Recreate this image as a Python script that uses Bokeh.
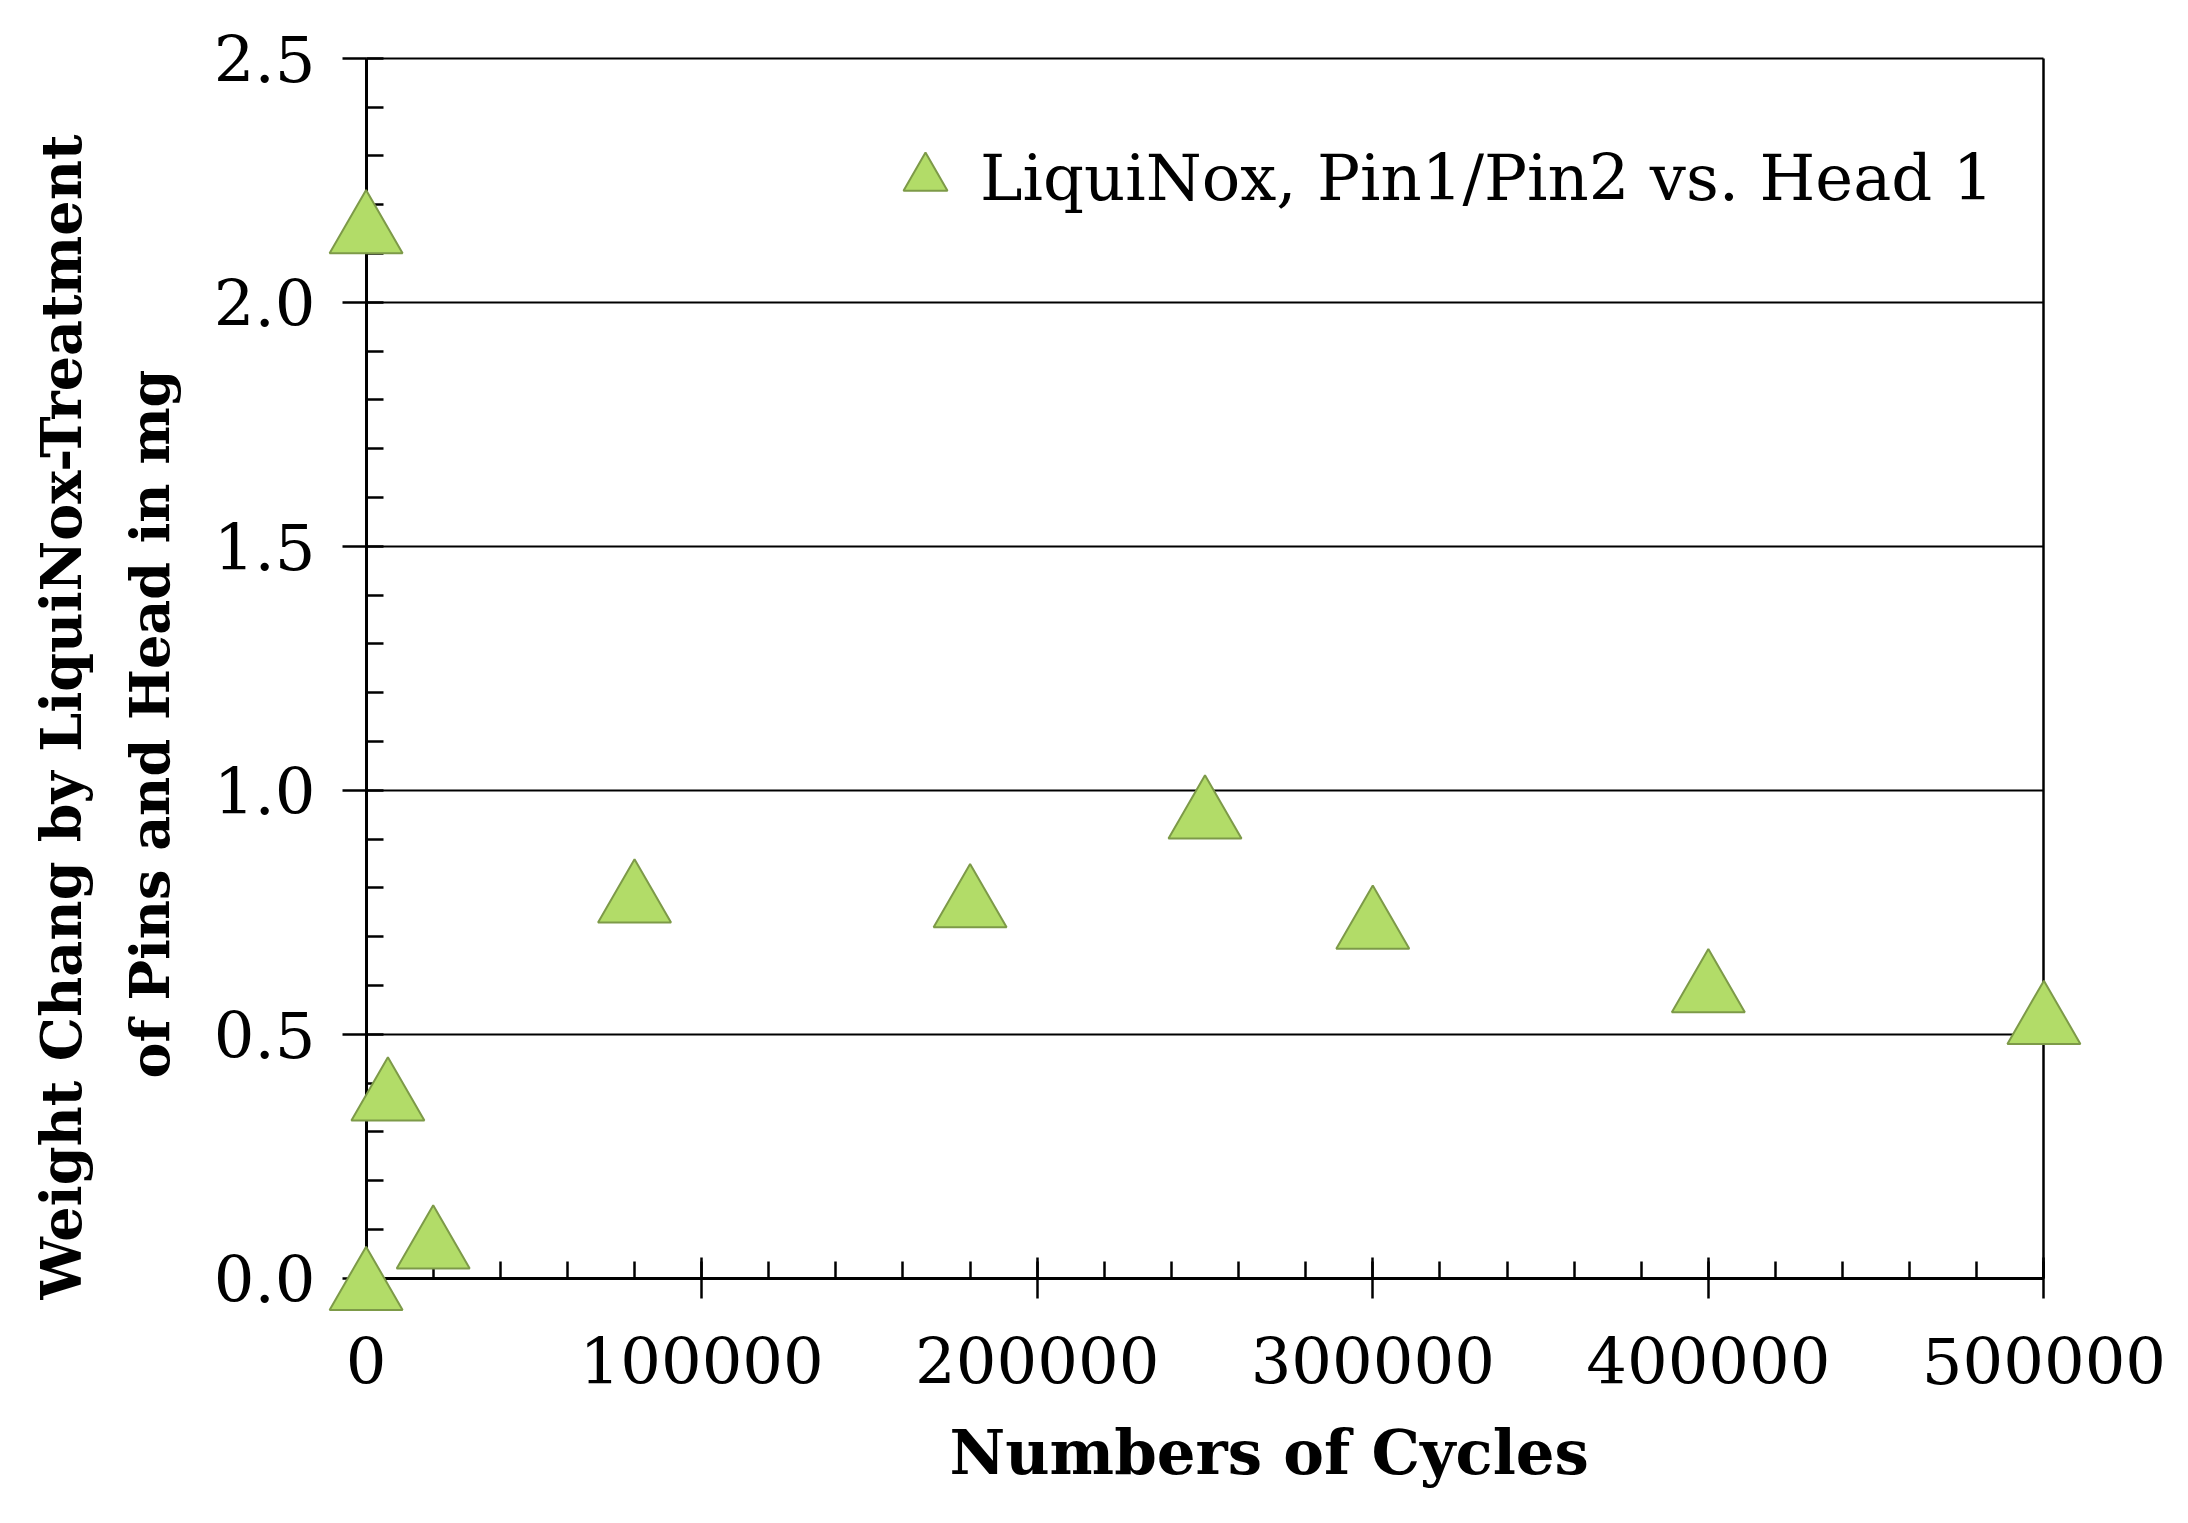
from bokeh.plotting import figure
from bokeh.models import (Range1d, SingleIntervalTicker, FixedTicker, Title, Legend,
                          LegendItem, PrintfTickFormatter, LinearAxis, ColumnDataSource)
from bokeh.transform import dodge
from bokeh.embed import file_html
from bokeh.resources import INLINE

# ---- data ----
cycles = [0, 0, 6500, 20000, 80000, 180000, 250000, 300000, 400000, 500000]
weight_change = [2.165, 0.0, 0.388, 0.085, 0.794, 0.784, 0.966, 0.740, 0.610, 0.545]
series_label = "LiquiNox, Pin1/Pin2 vs. Head 1"
x_title = "Numbers of Cycles"
y_title_line1 = "Weight  Chang by LiquiNox-Treatment"
y_title_line2 = "of Pins and Head in mg"
x_start, x_end, x_step = 0, 500000, 100000
y_start, y_end, y_step = 0.0, 2.5, 0.5

SERIF = "DejaVu Serif"

# small padding so markers sitting on the axes are not clipped by the frame
x_pad = 11500
y_pad_lo, y_pad_hi = 0.07, 0.02

p = figure(width=2170, height=1515, output_backend="svg", toolbar_location=None,
           x_range=Range1d(x_start - x_pad, x_end + x_pad),
           y_range=Range1d(y_start - y_pad_lo, y_end + y_pad_hi),
           min_border_left=327, min_border_right=88, min_border_top=48,
           min_border_bottom=199)
p.background_fill_color = "white"
p.border_fill_color = "white"
p.outline_line_color = None

x_ticker = SingleIntervalTicker(interval=x_step, num_minor_ticks=5)
y_ticker = SingleIntervalTicker(interval=y_step, num_minor_ticks=5)

# label-only axes at the frame edges
for ax in (p.xaxis, p.yaxis):
    ax.axis_line_color = None
    ax.major_tick_line_color = None
    ax.minor_tick_line_color = None
    ax.major_tick_in = 0
    ax.major_tick_out = 0
    ax.minor_tick_in = 0
    ax.minor_tick_out = 0
    ax.major_label_text_font = SERIF
    ax.major_label_text_font_size = "64px"
    ax.major_label_text_color = "black"
p.xaxis.ticker = x_ticker
p.yaxis.ticker = y_ticker
p.xaxis.formatter = PrintfTickFormatter(format="%d")
p.yaxis.formatter = PrintfTickFormatter(format="%.1f")
p.xaxis.major_label_standoff = 24
p.yaxis.major_label_standoff = 12


def line_axis(loc, bounds, ticker, tin, tout):
    return LinearAxis(fixed_location=loc, bounds=bounds, ticker=ticker,
                      axis_line_color="black", axis_line_width=3,
                      major_tick_line_color="black", major_tick_line_width=2.5,
                      minor_tick_line_color="black", minor_tick_line_width=2.5,
                      major_tick_in=tin, major_tick_out=tout,
                      minor_tick_in=17, minor_tick_out=0,
                      major_label_text_color=None,
                      major_label_text_font_size="1px")


# axis lines + ticks pinned at the data origin
p.add_layout(line_axis(y_start, (x_start, x_end), x_ticker, 21, 20), "below")
p.add_layout(line_axis(x_start, (y_start, y_end), y_ticker, 0, 24), "left")
# right border line of the plot area
right_axis = LinearAxis(fixed_location=x_end, bounds=(y_start, y_end),
                        ticker=FixedTicker(ticks=[]), axis_line_color="black",
                        axis_line_width=2.5, major_tick_in=0, major_tick_out=0,
                        minor_tick_in=0, minor_tick_out=0)
p.add_layout(right_axis, "right")

p.xgrid.visible = False
p.ygrid.grid_line_color = "black"
p.ygrid.grid_line_width = 2
p.ygrid.grid_line_alpha = 1.0
p.ygrid.cross_bounds = (x_start, x_end)

# data: Bokeh anchors a triangle at its centroid, Excel at the middle of its box;
# dodge shifts the anchor so the box middle sits on the value
source = ColumnDataSource(data=dict(x=cycles, y=weight_change))
r = p.scatter(x="x", y=dodge("y", -0.0215, range=p.y_range), source=source,
              marker="triangle", size=73,
              fill_color="#b2dc68", line_color="#7d9a48", line_width=2,
              level="overlay")

# legend
legend = Legend(items=[LegendItem(label=series_label, renderers=[r])],
                location=(543, 1077), glyph_width=110, glyph_height=115,
                label_standoff=0, padding=0, margin=0, spacing=0,
                border_line_color=None, background_fill_alpha=0,
                label_text_font=SERIF, label_text_font_size="64px",
                label_text_color="black")
p.add_layout(legend)

# axis titles
xt = Title(text=x_title, align="left", offset=622, text_font=SERIF,
           text_font_size="61px", text_font_style="bold", standoff=56,
           text_color="black")
p.add_layout(xt, "below")

yt2 = Title(text=y_title_line2, align="left", offset=234, text_font=SERIF,
            text_font_size="54px", text_font_style="bold", standoff=57,
            text_color="black")
p.add_layout(yt2, "left")
yt1 = Title(text=y_title_line1, align="left", offset=13, text_font=SERIF,
            text_font_size="55.5px", text_font_style="bold", standoff=-12,
            text_color="black")
p.add_layout(yt1, "left")

open("out.html", "w").write(file_html(p, INLINE))
